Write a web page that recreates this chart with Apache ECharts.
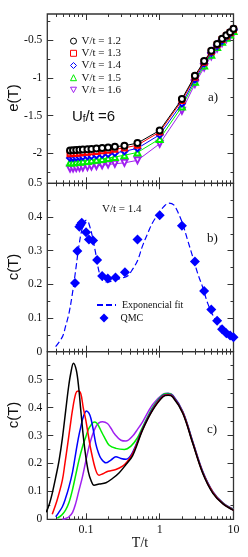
<!DOCTYPE html>
<html><head><meta charset="utf-8">
<script src="https://cdn.jsdelivr.net/npm/echarts@6/dist/echarts.min.js"></script>
<style>html,body{margin:0;padding:0;background:#fff}#c{width:248px;height:557px}</style>
</head><body><div id="c"></div>
<script>
// ---------- axis ticks ----------
const xMin = 0.03, xMax = 10;
const xMajor = [0.1, 1, 10];
const xMinor = [0.04,0.05,0.06,0.07,0.08,0.09,0.2,0.3,0.4,0.5,0.6,0.7,0.8,0.9,2,3,4,5,6,7,8,9];
const yA_major = [-2,-1.5,-1,-0.5];
const yA_minor = [-2.25,-1.75,-1.25,-0.75,-0.25];
const yB_major = [0,0.1,0.2,0.3,0.4,0.5];
const yB_minor = [0.05,0.15,0.25,0.35,0.45];
const yC_major = [0,0.1,0.2,0.3,0.4,0.5];
const yC_minor = [0.05,0.15,0.25,0.35,0.45,0.55];

// ---------- panel a: e(T) ----------
const legendA = ['V/t = 1.2','V/t = 1.3','V/t = 1.4','V/t = 1.5','V/t = 1.6'];
const T_a = [0.061,0.067,0.074,0.082,0.091,0.105,0.119,0.139,0.166,0.2,0.247,0.333,0.5,1,2,3,4,5,6,7,8,9,10];
const e_12 = [-1.963,-1.961,-1.958,-1.955,-1.951,-1.947,-1.943,-1.938,-1.932,-1.925,-1.915,-1.9,-1.866,-1.697,-1.28,-0.97,-0.775,-0.64,-0.55,-0.48,-0.432,-0.392,-0.345];
const e_13 = [-2.008,-2.005,-2.0,-1.996,-1.992,-1.987,-1.982,-1.976,-1.968,-1.96,-1.948,-1.93,-1.893,-1.718,-1.30,-0.99,-0.79,-0.652,-0.56,-0.49,-0.442,-0.40,-0.352];
const e_14 = [-2.063,-2.06,-2.055,-2.05,-2.045,-2.04,-2.035,-2.028,-2.02,-2.01,-1.996,-1.975,-1.935,-1.755,-1.34,-1.02,-0.81,-0.668,-0.575,-0.505,-0.455,-0.41,-0.362];
const e_15 = [-2.125,-2.122,-2.118,-2.113,-2.108,-2.102,-2.095,-2.087,-2.077,-2.065,-2.05,-2.027,-1.99,-1.81,-1.38,-1.05,-0.835,-0.69,-0.59,-0.518,-0.467,-0.422,-0.375];
const e_16 = [-2.205,-2.202,-2.198,-2.194,-2.19,-2.185,-2.178,-2.17,-2.16,-2.15,-2.14,-2.128,-2.095,-1.874,-1.435,-1.08,-0.86,-0.712,-0.61,-0.535,-0.482,-0.438,-0.395];

// ---------- panel b: c(T), V/t = 1.4 ----------
const legendB = ['Exponencial fit','QMC'];
const T_qmc = [0.0712,0.0766,0.0814,0.0845,0.0879,0.1006,0.11,0.125,0.142,0.166,0.198,0.252,0.338,0.5,1,2,3,4,5,6,7,8,9,10];
const c_qmc = [0.204,0.299,0.371,0.377,0.383,0.355,0.333,0.33,0.272,0.225,0.217,0.22,0.236,0.333,0.405,0.374,0.268,0.18,0.125,0.092,0.067,0.055,0.048,0.043];
const T_fit = [0.0389,0.048,0.053,0.059,0.0657,0.073,0.0806,0.089,0.1,0.105,0.11,0.123,0.136,0.151,0.168,0.196,0.242,0.3,0.367,0.43,0.5,0.587,0.7,0.8,1.0,1.15,1.33,1.55,1.8,2.06,2.4,2.81,3.3,3.84,4.5,5.5,6.5,7.6,8.9,10];
const c_fit = [0.015,0.044,0.075,0.114,0.173,0.245,0.315,0.365,0.39,0.388,0.38,0.34,0.291,0.237,0.212,0.207,0.212,0.218,0.225,0.245,0.27,0.315,0.355,0.383,0.415,0.432,0.441,0.436,0.41,0.378,0.33,0.281,0.23,0.19,0.142,0.1,0.078,0.06,0.05,0.042];

// ---------- panel c: c(T) for V/t = 1.2 ... 1.6 ----------
const T_c12 = [0.029,0.032,0.035,0.039,0.0434,0.048,0.0533,0.058,0.0622,0.0678,0.0743,0.08,0.0853,0.092,0.0997,0.108,0.117,0.129,0.151,0.187,0.229,0.283,0.349,0.43,0.587,0.8,1.1,1.3,1.5,2.06,2.81,3.84,5.26,7.2,10];
const c_c12 = [0.025,0.055,0.093,0.15,0.212,0.29,0.39,0.47,0.521,0.559,0.533,0.47,0.39,0.30,0.224,0.17,0.14,0.122,0.126,0.131,0.146,0.167,0.196,0.228,0.32,0.39,0.438,0.444,0.438,0.379,0.271,0.164,0.093,0.055,0.032];
const T_c13 = [0.035,0.0408,0.048,0.052,0.056,0.061,0.0657,0.0728,0.0783,0.0853,0.092,0.0997,0.108,0.117,0.136,0.151,0.17,0.2,0.255,0.314,0.36,0.43,0.587,0.8,1.1,1.3,1.5,2.06,2.81,3.84,5.26,7.2,10];
const c_c13 = [0.018,0.069,0.14,0.2,0.259,0.33,0.39,0.45,0.459,0.45,0.40,0.355,0.30,0.248,0.176,0.158,0.163,0.172,0.178,0.19,0.205,0.235,0.322,0.392,0.44,0.446,0.44,0.381,0.273,0.166,0.095,0.056,0.033];
const T_c14 = [0.039,0.043,0.048,0.053,0.059,0.066,0.0728,0.079,0.0853,0.093,0.102,0.11,0.117,0.126,0.136,0.147,0.16,0.187,0.218,0.255,0.299,0.349,0.43,0.587,0.8,1.1,1.3,1.5,2.06,2.81,3.84,5.26,7.2,10];
const c_c14 = [0.009,0.025,0.045,0.075,0.116,0.17,0.236,0.29,0.331,0.37,0.388,0.38,0.361,0.32,0.271,0.24,0.218,0.202,0.212,0.224,0.218,0.215,0.24,0.325,0.395,0.443,0.448,0.442,0.383,0.275,0.168,0.096,0.057,0.034];
const T_c15 = [0.041,0.047,0.053,0.059,0.0657,0.073,0.0806,0.09,0.0997,0.108,0.117,0.129,0.14,0.151,0.163,0.177,0.207,0.255,0.331,0.408,0.5,0.587,0.8,1.1,1.3,1.5,2.06,2.81,3.84,5.26,7.2,10];
const c_c15 = [0.004,0.015,0.033,0.06,0.105,0.16,0.212,0.26,0.295,0.322,0.337,0.348,0.345,0.331,0.313,0.295,0.265,0.254,0.25,0.262,0.292,0.33,0.4,0.446,0.45,0.443,0.384,0.276,0.169,0.097,0.058,0.035];
const T_c16 = [0.048,0.053,0.059,0.066,0.0728,0.08,0.0898,0.1,0.11,0.122,0.136,0.15,0.168,0.196,0.22,0.242,0.299,0.349,0.43,0.5,0.587,0.8,1.1,1.3,1.5,2.06,2.81,3.84,5.26,7.2,10];
const c_c16 = [0.0,0.003,0.009,0.025,0.057,0.1,0.152,0.21,0.259,0.3,0.331,0.345,0.349,0.343,0.325,0.307,0.283,0.28,0.298,0.322,0.349,0.41,0.447,0.451,0.445,0.386,0.278,0.171,0.099,0.059,0.036];

// ---------- styling / layout ----------
const COLORS = ['#000000','#ff0000','#0000ff','#00ee00','#a020f0'];
const FRAME = '#333';
const SERIF = '"Liberation Serif","DejaVu Serif",serif';
const SANS = '"Liberation Sans","DejaVu Sans",sans-serif';
const GL = 47.3, GW = 186.2;
const grids = [
  {left: GL, width: GW, top: 14, height: 169.3},
  {left: GL, width: GW, top: 183.3, height: 168.4},
  {left: GL, width: GW, top: 351.7, height: 167.6}
].map(g => Object.assign({show: true, borderColor: FRAME, borderWidth: 1.3, backgroundColor: 'transparent', outerBoundsMode: 'none', containLabel: false}, g));

const zip = (a, b) => a.map((v, i) => [v, b[i]]);
const tickStyle = {color: FRAME, width: 1};

function xAxes(g, showLabels) {
  const base = {type: 'log', logBase: 10, min: xMin, max: xMax, gridIndex: g,
    axisLine: {show: false, onZero: false}, splitLine: {show: false}, minorTick: {show: false}};
  const lab = {show: showLabels, customValues: xMajor, fontFamily: SERIF, fontSize: 12, color: '#111', margin: 5,
    formatter: v => String(+Number(v).toPrecision(3))};
  return [
    Object.assign({}, base, {position: 'bottom', axisTick: {inside: true, length: 6, customValues: xMajor, lineStyle: tickStyle}, axisLabel: lab}),
    Object.assign({}, base, {position: 'top', axisTick: {inside: true, length: 6, customValues: xMajor, lineStyle: tickStyle}, axisLabel: {show: false}}),
    Object.assign({}, base, {position: 'top', axisTick: {inside: true, length: 3, customValues: xMinor, lineStyle: tickStyle}, axisLabel: {show: false}}),
    Object.assign({}, base, {position: 'bottom', axisTick: {inside: true, length: 3, customValues: xMinor, lineStyle: tickStyle}, axisLabel: {show: false}})
  ];
}
function yAxes(g, min, max, major, minor) {
  const base = {type: 'value', min: min, max: max, gridIndex: g,
    axisLine: {show: false, onZero: false}, splitLine: {show: false}, minorTick: {show: false}};
  const lab = {show: true, customValues: major, fontFamily: SERIF, fontSize: 11.5, color: '#111', margin: 5,
    formatter: v => String(+Number(v).toFixed(2))};
  return [
    Object.assign({}, base, {position: 'left', axisTick: {inside: true, length: 6, customValues: major, lineStyle: tickStyle}, axisLabel: lab}),
    Object.assign({}, base, {position: 'right', axisTick: {inside: true, length: 6, customValues: major, lineStyle: tickStyle}, axisLabel: {show: false}}),
    Object.assign({}, base, {position: 'right', axisTick: {inside: true, length: 3, customValues: minor, lineStyle: tickStyle}, axisLabel: {show: false}}),
    Object.assign({}, base, {position: 'left', axisTick: {inside: true, length: 3, customValues: minor, lineStyle: tickStyle}, axisLabel: {show: false}})
  ];
}

const series = [];
const eData = [e_12, e_13, e_14, e_15, e_16];
const aSymbols = ['emptyCircle','emptyRect','emptyDiamond','emptyTriangle','emptyTriangle'];
const aSizes = [6, 5, 6, 6, 6];
eData.forEach((arr, i) => {
  series.push({type: 'line', name: legendA[i], xAxisIndex: 0, yAxisIndex: 0, data: zip(T_a, arr),
    symbol: aSymbols[i], symbolSize: aSizes[i], symbolRotate: i === 4 ? 180 : 0, showAllSymbol: true,
    lineStyle: {color: COLORS[i], width: 1}, itemStyle: {color: COLORS[i], borderColor: COLORS[i], borderWidth: 0.9},
    z: 10 - i, animation: false, emphasis: {disabled: true}});
});
series.push({type: 'line', name: legendB[0], xAxisIndex: 4, yAxisIndex: 4, data: zip(T_fit, c_fit),
  symbol: 'none', smooth: 0.35, lineStyle: {color: '#0000ff', width: 1.2, type: [6, 3]},
  itemStyle: {color: '#0000ff'}, animation: false});
series.push({type: 'scatter', name: legendB[1], xAxisIndex: 4, yAxisIndex: 4, data: zip(T_qmc, c_qmc),
  symbol: 'diamond', symbolSize: 10, itemStyle: {color: '#0000ff', opacity: 1}, animation: false});
const cT = [T_c12, T_c13, T_c14, T_c15, T_c16];
const cV = [c_c12, c_c13, c_c14, c_c15, c_c16];
cT.forEach((t, i) => {
  series.push({type: 'line', name: 'c ' + legendA[i], xAxisIndex: 8, yAxisIndex: 8, data: zip(t, cV[i]),
    symbol: 'none', smooth: 0.35, lineStyle: {color: COLORS[i], width: 1.5}, z: 10 - i, animation: false});
});

const graphic = [
  {type: 'text', left: 208, top: 91, style: {text: 'a)', font: '13px ' + SERIF, fill: '#111'}},
  {type: 'text', left: 207, top: 232, style: {text: 'b)', font: '13px ' + SERIF, fill: '#111'}},
  {type: 'text', left: 207, top: 423, style: {text: 'c)', font: '13px ' + SERIF, fill: '#111'}},
  {type: 'text', left: 72, top: 109, style: {text: 'U{s|f}/t =6', font: '15px ' + SANS, fill: '#111',
    rich: {s: {fontSize: 10, fontFamily: SANS, verticalAlign: 'bottom', padding: [6, 0, 0, 0]}}}},
  {type: 'text', left: 102, top: 204, style: {text: 'V/t = 1.4', font: '11px ' + SERIF, fill: '#111'}},
  {type: 'text', x: 14, y: 98, rotation: Math.PI / 2, style: {text: 'e(T)', font: '15px ' + SANS, fill: '#111', align: 'center', verticalAlign: 'middle'}},
  {type: 'text', x: 14, y: 267, rotation: Math.PI / 2, style: {text: 'c(T)', font: '15px ' + SANS, fill: '#111', align: 'center', verticalAlign: 'middle'}},
  {type: 'text', x: 14, y: 415, rotation: Math.PI / 2, style: {text: 'c(T)', font: '15px ' + SANS, fill: '#111', align: 'center', verticalAlign: 'middle'}},
  {type: 'text', x: 140, y: 543, style: {text: 'T/t', font: '14px ' + SERIF, fill: '#111', align: 'center', verticalAlign: 'middle'}}
];

const legIcons = ['circle', 'rect', 'diamond', 'triangle', 'path://M0,0 L10,0 L5,9 Z'];
const option = {
  backgroundColor: '#fff',
  animation: false,
  grid: grids,
  xAxis: [].concat(xAxes(0, false), xAxes(1, false), xAxes(2, true)),
  yAxis: [].concat(yAxes(0, -2.4, -0.15, yA_major, yA_minor), yAxes(1, 0, 0.5, yB_major, yB_minor), yAxes(2, 0, 0.6, yC_major, yC_minor)),
  legend: [
    {orient: 'vertical', left: 70, top: 35, itemWidth: 6, itemHeight: 6, itemGap: 0, padding: 0,
      textStyle: {fontFamily: SERIF, fontSize: 11, lineHeight: 12.2, color: '#111', padding: [0, 0, 0, 0]},
      selectedMode: false,
      data: legendA.map((n, i) => ({name: n, icon: legIcons[i],
        itemStyle: {color: '#fff', borderColor: COLORS[i], borderWidth: 1}}))},
    {orient: 'vertical', left: 96, top: 300, itemWidth: 19, itemHeight: 9, padding: 0,
      textStyle: {fontFamily: SERIF, fontSize: 10, color: '#111', padding: [0, 0, 0, 1]}, selectedMode: false,
      data: [{name: legendB[0], itemStyle: {opacity: 0}}]},
    {orient: 'vertical', left: 99.5, top: 313, itemWidth: 9, itemHeight: 9, padding: 0,
      textStyle: {fontFamily: SERIF, fontSize: 10, color: '#111', padding: [0, 0, 0, 7]}, selectedMode: false,
      data: [{name: legendB[1], icon: 'diamond'}]}
  ],
  graphic: graphic,
  series: series
};
const chart = echarts.init(document.getElementById('c'), null, {renderer: 'canvas'});
chart.setOption(option);
</script></body></html>
